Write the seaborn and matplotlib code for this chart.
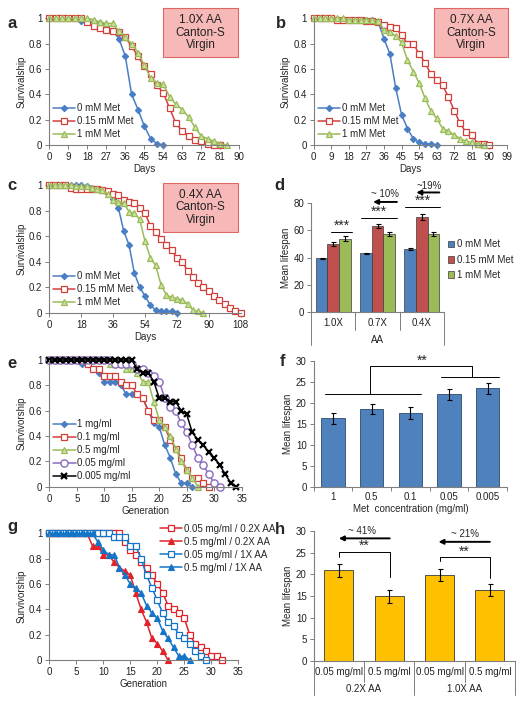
import numpy as np
import pandas as pd
import matplotlib
matplotlib.use("Agg")
import matplotlib.pyplot as plt
import seaborn as sns
from matplotlib.patches import Rectangle
from matplotlib.ticker import FuncFormatter, MultipleLocator

sns.set_style("white")
plt.rcParams['font.family'] = ['Liberation Sans', 'DejaVu Sans']

# ---------------- data ----------------
DAYS = [0, 3, 6, 9, 12, 15, 18, 21, 24, 27, 30, 33, 36, 39, 42, 45, 48, 51, 54,
        57, 60, 63, 66, 69, 72, 75, 78, 81, 84, 87, 90, 93, 96, 99, 102, 105, 108]
GEN = [0, 1, 2, 3, 4, 5, 6, 7, 8, 9, 10, 11, 12, 13, 14, 15, 16, 17, 18, 19, 20,
       21, 22, 23, 24, 25, 26, 27, 28, 29, 30, 31, 32, 33, 34]
MET_LABELS = ["0 mM Met", "0.15 mM Met", "1 mM Met"]

# panel a (1.0X AA)
a_0mM = [1, 1, 1, 1, 1, 0.98, 0.98, 0.97, 0.96, 0.94, 0.90, 0.84, 0.70, 0.40,
         0.28, 0.15, 0.05, 0.01, 0.0]
a_015mM = [1, 1, 1, 1, 1, 1, 0.97, 0.94, 0.92, 0.91, 0.90, 0.89, 0.85, 0.78,
           0.70, 0.62, 0.56, 0.47, 0.41, 0.29, 0.17, 0.11, 0.07, 0.04, 0.03,
           0.01, 0.0, 0.0]
a_1mM = [1, 1, 1, 1, 1, 1, 1, 0.99, 0.97, 0.96, 0.96, 0.90, 0.85, 0.80, 0.73,
         0.63, 0.53, 0.49, 0.48, 0.38, 0.32, 0.28, 0.22, 0.14, 0.07, 0.05,
         0.03, 0.01, 0.0]
# panel b (0.7X AA)
b_0mM = [1, 1, 1, 1, 0.99, 0.99, 0.99, 0.99, 0.99, 0.99, 0.99, 0.97, 0.84,
         0.72, 0.45, 0.24, 0.13, 0.05, 0.02, 0.01, 0.01, 0.0]
b_015mM = [1, 1, 1, 1, 0.99, 0.99, 0.99, 0.99, 0.99, 0.98, 0.98, 0.97, 0.95,
           0.93, 0.92, 0.87, 0.80, 0.80, 0.72, 0.65, 0.56, 0.51, 0.47, 0.38,
           0.27, 0.17, 0.10, 0.08, 0.01, 0.01, 0.0]
b_1mM = [1, 1, 1, 1, 1, 1, 0.99, 0.99, 0.99, 0.99, 0.99, 0.98, 0.91, 0.89,
         0.86, 0.81, 0.67, 0.58, 0.49, 0.37, 0.27, 0.21, 0.13, 0.11, 0.08,
         0.05, 0.03, 0.02, 0.01, 0.0]
# panel c (0.4X AA)
c_0mM = [1, 1, 1, 1, 1, 1, 1, 0.99, 0.98, 0.97, 0.96, 0.95, 0.89, 0.82, 0.64,
         0.53, 0.31, 0.20, 0.13, 0.06, 0.02, 0.01, 0.01, 0.01, 0.0]
c_015mM = [1, 1, 1, 1, 0.98, 0.97, 0.97, 0.97, 0.97, 0.97, 0.96, 0.95, 0.93,
           0.92, 0.88, 0.87, 0.86, 0.82, 0.78, 0.68, 0.63, 0.58, 0.53, 0.49,
           0.43, 0.40, 0.33, 0.28, 0.23, 0.20, 0.17, 0.13, 0.10, 0.07, 0.04,
           0.01, 0.0]
c_1mM = [1, 1, 1, 1, 1, 0.99, 0.99, 0.99, 0.98, 0.97, 0.96, 0.93, 0.88, 0.87,
         0.86, 0.79, 0.78, 0.73, 0.56, 0.43, 0.37, 0.22, 0.14, 0.12, 0.11,
         0.10, 0.07, 0.02, 0.01, 0.0]

# panel d
d_groups = ["1.0X", "0.7X", "0.4X"]
d_mean = {"0 mM Met": [39.5, 43.0, 46.5],
          "0.15 mM Met": [50.0, 63.5, 70.0],
          "1 mM Met": [54.0, 57.0, 57.5]}
d_err = {"0 mM Met": [0.5, 0.5, 0.6],
         "0.15 mM Met": [1.5, 1.5, 2.0],
         "1 mM Met": [1.5, 1.5, 1.3]}

# panel e
E_LABELS = ["1 mg/ml", "0.1 mg/ml", "0.5 mg/ml", "0.05 mg/ml", "0.005 mg/ml"]
e_1 = [1, 1, 1, 1, 1, 1, 0.97, 0.97, 0.93, 0.90, 0.83, 0.83, 0.83, 0.80, 0.73,
       0.73, 0.73, 0.70, 0.60, 0.50, 0.47, 0.33, 0.23, 0.10, 0.03, 0.03, 0.0]
e_01 = [1, 1, 1, 1, 1, 1, 1, 0.97, 0.93, 0.93, 0.87, 0.87, 0.87, 0.83, 0.80,
        0.80, 0.73, 0.70, 0.60, 0.53, 0.53, 0.47, 0.37, 0.30, 0.23, 0.13,
        0.07, 0.07, 0.03, 0.0]
e_05 = [1, 1, 1, 1, 1, 1, 1, 1, 1, 1, 1, 0.97, 0.97, 0.97, 0.93, 0.93, 0.90,
        0.83, 0.83, 0.67, 0.53, 0.47, 0.40, 0.30, 0.20, 0.13, 0.07, 0.0]
e_005 = [1, 1, 1, 1, 1, 1, 1, 1, 1, 1, 1, 1, 0.97, 0.97, 0.97, 0.97, 0.93,
         0.93, 0.90, 0.87, 0.83, 0.70, 0.63, 0.60, 0.50, 0.43, 0.33, 0.23,
         0.17, 0.10, 0.03, 0.0]
e_0005 = [1, 1, 1, 1, 1, 1, 1, 1, 1, 1, 1, 1, 1, 1, 1, 1, 0.93, 0.90, 0.90,
          0.83, 0.70, 0.70, 0.67, 0.67, 0.60, 0.57, 0.43, 0.37, 0.33, 0.27,
          0.23, 0.17, 0.10, 0.03, 0.0]

# panel f
f_conc = ["1", "0.5", "0.1", "0.05", "0.005"]
f_mean = [16.3, 18.5, 17.6, 22.0, 23.4]
f_err = [1.3, 1.3, 1.4, 1.3, 1.3]

# panel g
G_LABELS = ["0.05 mg/ml / 0.2X AA", "0.5 mg/ml / 0.2X AA",
            "0.05 mg/ml / 1X AA", "0.5 mg/ml / 1X AA"]
g_005_02 = [1, 1, 1, 1, 1, 1, 1, 1, 1, 1, 1, 1, 1, 1, 0.93, 0.87, 0.83, 0.77,
            0.73, 0.67, 0.60, 0.53, 0.43, 0.40, 0.37, 0.33, 0.20, 0.13, 0.10,
            0.07, 0.03, 0.03, 0.0]
g_05_02 = [1, 1, 1, 1, 1, 1, 1, 1, 0.90, 0.90, 0.83, 0.83, 0.77, 0.73, 0.70,
           0.67, 0.53, 0.40, 0.30, 0.17, 0.13, 0.07, 0.0]
g_005_1 = [1, 1, 1, 1, 1, 1, 1, 1, 1, 1, 1, 1, 0.97, 0.97, 0.97, 0.90, 0.90,
           0.80, 0.67, 0.57, 0.47, 0.37, 0.30, 0.27, 0.20, 0.17, 0.13, 0.07,
           0.03, 0.0]
g_05_1 = [1, 1, 1, 1, 1, 1, 1, 1, 1, 0.93, 0.87, 0.83, 0.83, 0.73, 0.67, 0.60,
          0.57, 0.53, 0.43, 0.37, 0.33, 0.23, 0.17, 0.10, 0.03, 0.03, 0.0]

# panel h
h_conc = ["0.05 mg/ml", "0.5 mg/ml", "0.05 mg/ml", "0.5 mg/ml"]
h_aa = ["0.2X AA", "1.0X AA"]
h_mean = [21.0, 15.0, 19.8, 16.3]
h_err = [1.5, 1.5, 1.4, 1.4]

# ---------------- figure ----------------
W, H = 524, 704
fig = plt.figure(figsize=(W / 100, H / 100), dpi=100)
FS = 7
STAR = 10
GRAY = '#7F7F7F'


def add_ax(l, r, t, b):
    return fig.add_axes([l / W, 1 - b / H, (r - l) / W, (b - t) / H])


def style(ax):
    for s in ['top', 'right']:
        ax.spines[s].set_visible(False)
    for s in ['left', 'bottom']:
        ax.spines[s].set_color(GRAY)
        ax.spines[s].set_linewidth(0.8)
    ax.tick_params(axis='both', which='both', direction='out', length=3,
                   width=0.7, color=GRAY, labelsize=FS, pad=2,
                   labelcolor='#222222', left=True, bottom=True)


def panel_label(x, y, s):
    fig.text(x / W, 1 - y / H, s, fontsize=12, fontweight='bold',
             ha='center', va='center')


def pink_box(x0, y0, x1, y1, text):
    fig.patches.append(Rectangle((x0 / W, 1 - y1 / H), (x1 - x0) / W,
                                 (y1 - y0) / H, transform=fig.transFigure,
                                 facecolor='#F7B9B8', edgecolor='#E06666',
                                 linewidth=0.8))
    fig.text((x0 + x1) / 2 / W, 1 - (y0 + y1) / 2 / H, text, fontsize=8.5,
             ha='center', va='center', linespacing=1.1, color='#222222')


def gfmt(v, p):
    return '%g' % v


def survival_panel(ax, series, xmax, xstep, xlabel, ylabel):
    for x, y, label, color, marker, mfc, ms, mew in series:
        sns.lineplot(x=x, y=y, ax=ax, color=color, marker=marker,
                     markersize=ms, markerfacecolor=mfc,
                     markeredgecolor=color, markeredgewidth=mew,
                     linewidth=1.1, label=label, clip_on=False,
                     estimator=None, sort=False)
    ax.set_xlim(0, xmax)
    ax.set_ylim(0, 1)
    ax.xaxis.set_major_locator(MultipleLocator(xstep))
    ax.yaxis.set_major_locator(MultipleLocator(0.2))
    ax.yaxis.set_major_formatter(FuncFormatter(gfmt))
    ax.set_xlabel(xlabel, fontsize=FS, labelpad=1.5)
    ax.set_ylabel(ylabel, fontsize=FS, labelpad=2)
    style(ax)


BLUE = '#4A7EC4'
RED = '#D2403C'
GREEN = '#9BBB59'
LGREEN = '#C9E2A3'

def met_series(v0, v015, v1):
    return [
        (DAYS[:len(v0)], v0, MET_LABELS[0], BLUE, 'D', BLUE, 3.2, 0.8),
        (DAYS[:len(v015)], v015, MET_LABELS[1], RED, 's', 'white', 3.8, 0.9),
        (DAYS[:len(v1)], v1, MET_LABELS[2], GREEN, '^', LGREEN, 4.2, 0.9),
    ]


def small_legend(ax, bbox, loc='lower left'):
    ax.legend(loc=loc, bbox_to_anchor=bbox, frameon=False, fontsize=FS,
              handlelength=2.3, handletextpad=0.2, labelspacing=0.3,
              borderaxespad=0, borderpad=0)

# panel a
ax_a = add_ax(49.3, 239.3, 18.3, 145)
survival_panel(ax_a, met_series(a_0mM, a_015mM, a_1mM), 90, 9, 'Days',
               'Survivalship')
small_legend(ax_a, (0.02, 0.045))
panel_label(12, 23, 'a')
pink_box(163, 8, 238, 57, '1.0X AA\nCanton-S\nVirgin')

# panel b
ax_b = add_ax(313.7, 507, 18.3, 145)
survival_panel(ax_b, met_series(b_0mM, b_015mM, b_1mM), 99, 9, 'Days',
               'Survivalship')
small_legend(ax_b, (0.02, 0.045))
panel_label(281, 23, 'b')
pink_box(434, 8, 508, 57, '0.7X AA\nCanton-S\nVirgin')

# panel c
ax_c = add_ax(49.3, 240.7, 185, 312.7)
survival_panel(ax_c, met_series(c_0mM, c_015mM, c_1mM), 108, 18, 'Days',
               'Survivalship')
small_legend(ax_c, (0.02, 0.045))
panel_label(12, 186, 'c')
pink_box(163, 183, 238, 232, '0.4X AA\nCanton-S\nVirgin')

# panel d
ax_d = add_ax(311.3, 443.7, 203.3, 311.7)
df_d = pd.DataFrame({
    'AA': [g for m in MET_LABELS for g in d_groups],
    'Met': [m for m in MET_LABELS for g in d_groups],
    'life': [v for m in MET_LABELS for v in d_mean[m]],
})
sns.barplot(data=df_d, x='AA', y='life', hue='Met', order=d_groups,
            hue_order=MET_LABELS, palette=['#4F81BD', '#C0504D', '#9BBB59'],
            saturation=1, edgecolor='#3a3a3a', linewidth=0.5, errorbar=None,
            width=0.8, ax=ax_d)
for m, cont in zip(MET_LABELS, ax_d.containers):
    for bar, e in zip(cont, d_err[m]):
        ax_d.errorbar(bar.get_x() + bar.get_width() / 2, bar.get_height(),
                      yerr=e, color='black', capsize=1.8, elinewidth=0.8,
                      capthick=0.8)
ax_d.set_ylim(0, 80)
ax_d.set_xlim(-0.5, 2.5)
ax_d.yaxis.set_major_locator(MultipleLocator(20))
ax_d.set_ylabel('Mean lifespan', fontsize=FS, labelpad=2)
ax_d.set_xlabel('')
style(ax_d)
ax_d.set_xticks([])
h_d, l_d = ax_d.get_legend_handles_labels()
ax_d.legend(h_d, l_d, loc='center left', bbox_to_anchor=(1.03, 0.48),
            frameon=False, fontsize=FS, handlelength=0.7, handleheight=0.7,
            handletextpad=0.3, labelspacing=0.55, borderpad=0, borderaxespad=0)
tr = ax_d.get_xaxis_transform()
for xb in [0.5, 1.5]:
    ax_d.plot([xb, xb], [0, -0.17], transform=tr, color=GRAY, lw=0.7,
              clip_on=False)
for xb in [-0.5, 2.5]:
    ax_d.plot([xb, xb], [0, -0.31], transform=tr, color=GRAY, lw=0.7,
              clip_on=False)
for i, g in enumerate(d_groups):
    ax_d.text(i, -0.105, g, transform=tr, ha='center', va='center',
              fontsize=FS, color='#222222')
ax_d.text(1, -0.265, 'AA', transform=tr, ha='center', va='center',
          fontsize=FS, color='#222222')
# significance marks
for (x0, x1, yl, ys) in [(-0.05, 0.42, 59, 63.5), (0.62, 1.45, 69.5, 74),
                         (1.62, 2.42, 77, 81.5)]:
    ax_d.plot([x0, x1], [yl, yl], color='black', lw=0.7, clip_on=False)
    ax_d.text((x0 + x1) / 2, ys, '***', ha='center', va='center',
              fontsize=STAR, clip_on=False)
for (x0, x1, ya, tx, ty, s) in [(1.44, 0.90, 81, 1.18, 86.5, '~ 10%'),
                                (2.40, 1.88, 88, 2.16, 93, '~19%')]:
    ax_d.annotate('', xy=(x1, ya), xytext=(x0, ya),
                  arrowprops=dict(arrowstyle='-|>', lw=1.4, color='black',
                                  mutation_scale=7, shrinkA=0, shrinkB=0),
                  annotation_clip=False)
    ax_d.text(tx, ty, s, ha='center', va='center', fontsize=FS)
panel_label(279, 186, 'd')

# panel e
ax_e = add_ax(49.3, 241.7, 360, 486.7)
PURPLE = '#8A6BBE'
e_series = [
    (GEN[:len(e_1)], e_1, E_LABELS[0], BLUE, 'D', BLUE, 3.2, 0.8),
    (GEN[:len(e_01)], e_01, E_LABELS[1], RED, 's', 'white', 4.0, 0.9),
    (GEN[:len(e_05)], e_05, E_LABELS[2], GREEN, '^', LGREEN, 4.2, 0.9),
    (GEN[:len(e_005)], e_005, E_LABELS[3], PURPLE, 'o', 'white', 5.2, 1.0),
    (GEN[:len(e_0005)], e_0005, E_LABELS[4], 'black', 'x', 'black', 4.0, 1.6),
]
survival_panel(ax_e, e_series, 35, 5, 'Generation', 'Survivorship')
small_legend(ax_e, (0.02, 0.045))
panel_label(12, 364, 'e')

# panel f
ax_f = add_ax(313.7, 507, 360.7, 486.7)
df_f = pd.DataFrame({'conc': f_conc, 'life': f_mean})
sns.barplot(data=df_f, x='conc', y='life', order=f_conc, color='#4F81BD',
            saturation=1, edgecolor='#2c4a72', linewidth=0.6, errorbar=None,
            width=0.6, ax=ax_f)
for bar, e in zip(ax_f.patches, f_err):
    ax_f.errorbar(bar.get_x() + bar.get_width() / 2, bar.get_height(),
                  yerr=e, color='black', capsize=1.8, elinewidth=0.8,
                  capthick=0.8)
ax_f.set_ylim(0, 30)
ax_f.set_xlim(-0.5, 4.5)
ax_f.yaxis.set_major_locator(MultipleLocator(5))
ax_f.set_ylabel('Mean lifespan', fontsize=FS, labelpad=2)
ax_f.set_xlabel('Met  concentration (mg/ml)', fontsize=FS, labelpad=1.5)
style(ax_f)
ax_f.tick_params(axis='x', which='major', length=0, pad=4)
ax_f.set_xticks([-0.5, 0.5, 1.5, 2.5, 3.5, 4.5], minor=True)
ax_f.plot([-0.22, 2.28], [22.06, 22.06], color='black', lw=0.7)
ax_f.plot([2.78, 4.3], [26, 26], color='black', lw=0.7)
ax_f.plot([0.95, 0.95, 3.6, 3.6], [22.06, 28.8, 28.8, 26], color='black',
          lw=0.7, clip_on=False)
ax_f.text(2.3, 30.0, '**', ha='center', va='center', fontsize=STAR,
          clip_on=False)
panel_label(283, 361, 'f')

# panel g
ax_g = add_ax(49.3, 238.3, 533.3, 660)
GRED = '#E0232A'
GBLUE = '#1475C8'
g_series = [
    (GEN[:len(g_005_02)], g_005_02, G_LABELS[0], GRED, 's', 'white', 4.0, 0.9),
    (GEN[:len(g_05_02)], g_05_02, G_LABELS[1], GRED, '^', GRED, 4.0, 0.8),
    (GEN[:len(g_005_1)], g_005_1, G_LABELS[2], GBLUE, 's', 'white', 4.0, 0.9),
    (GEN[:len(g_05_1)], g_05_1, G_LABELS[3], GBLUE, '^', GBLUE, 4.0, 0.8),
]
survival_panel(ax_g, g_series, 35, 5, 'Generation', 'Survivorship')
small_legend(ax_g, (0.585, 1.075), loc='upper left')
panel_label(12, 527, 'g')

# panel h
ax_h = add_ax(313.7, 515, 531, 661)
df_h = pd.DataFrame({'grp': [0, 1, 2, 3], 'life': h_mean})
sns.barplot(data=df_h, x='grp', y='life', color='#FFC000', saturation=1,
            edgecolor='#3a3a3a', linewidth=0.6, errorbar=None, width=0.58,
            ax=ax_h)
for bar, e in zip(ax_h.patches, h_err):
    ax_h.errorbar(bar.get_x() + bar.get_width() / 2, bar.get_height(),
                  yerr=e, color='black', capsize=1.8, elinewidth=0.8,
                  capthick=0.8)
ax_h.set_ylim(0, 30)
ax_h.set_xlim(-0.5, 3.5)
ax_h.yaxis.set_major_locator(MultipleLocator(5))
ax_h.set_ylabel('Mean lifespan', fontsize=FS, labelpad=2)
ax_h.set_xlabel('')
style(ax_h)
ax_h.set_xticks([])
trh = ax_h.get_xaxis_transform()
for xb in [0.5, 2.5]:
    ax_h.plot([xb, xb], [0, -0.16], transform=trh, color=GRAY, lw=0.7,
              clip_on=False)
for xb in [-0.5, 1.5, 3.5]:
    ax_h.plot([xb, xb], [0, -0.265], transform=trh, color=GRAY, lw=0.7,
              clip_on=False)
for i, s in enumerate(h_conc):
    ax_h.text(i, -0.082, s, transform=trh, ha='center', va='center',
              fontsize=FS, color='#222222')
for i, s in enumerate(h_aa):
    ax_h.text(0.5 + 2 * i, -0.215, s, transform=trh, ha='center',
              va='center', fontsize=FS, color='#222222')
for (xl, xr, yl0, yl1, yr, sx, sy) in [(0.01, 1.01, 23.9, 25.1, 19.5, 0.5, 26.5),
                                      (2.0, 3.0, 23.1, 23.9, 19.2, 2.5, 25.3)]:
    ax_h.plot([xl, xl, xr, xr], [yl0, yl1, yl1, yr], color='black', lw=0.7,
              clip_on=False)
    ax_h.text(sx, sy, '**', ha='center', va='center', fontsize=STAR)
for (x0, x1, ya, tx, ty, s) in [(1.01, 0.0, 28.3, 0.46, 30.0, '~ 41%'),
                                (3.0, 1.98, 27.5, 2.51, 29.3, '~ 21%')]:
    ax_h.annotate('', xy=(x1, ya), xytext=(x0, ya),
                  arrowprops=dict(arrowstyle='-|>', lw=1.4, color='black',
                                  mutation_scale=7, shrinkA=0, shrinkB=0),
                  annotation_clip=False)
    ax_h.text(tx, ty, s, ha='center', va='center', fontsize=FS)
panel_label(280, 530, 'h')

fig.savefig('out.png', dpi=100)
